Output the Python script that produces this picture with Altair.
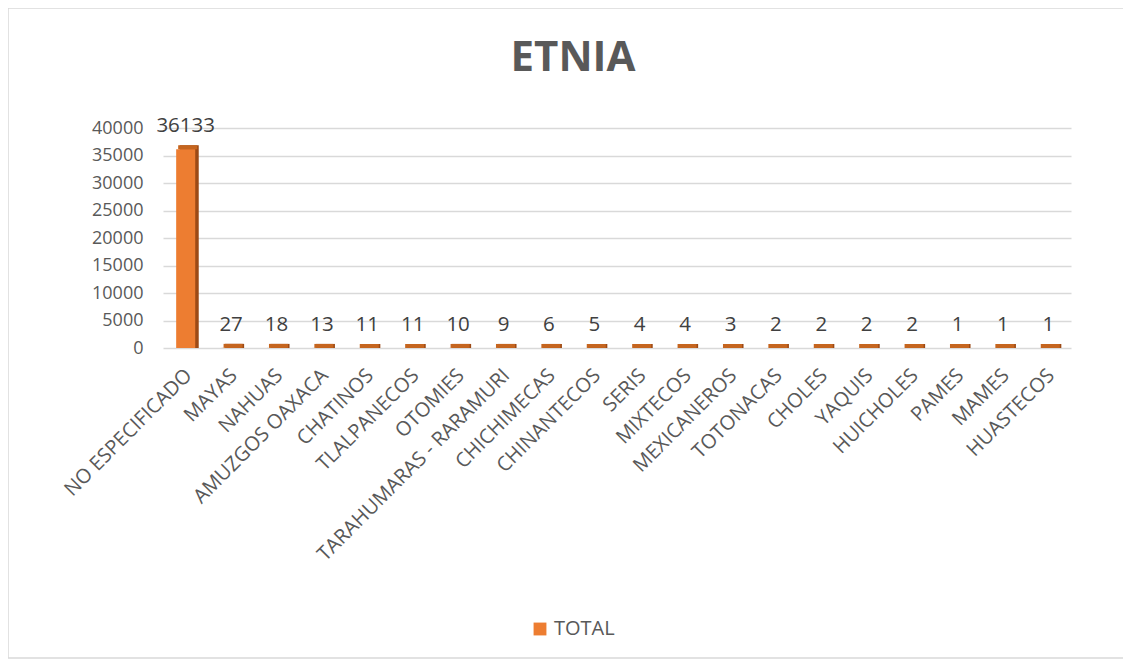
import altair as alt
import pandas as pd

categories = ["NO ESPECIFICADO", "MAYAS", "NAHUAS", "AMUZGOS OAXACA", "CHATINOS",
              "TLALPANECOS", "OTOMIES", "TARAHUMARAS - RARAMURI", "CHICHIMECAS",
              "CHINANTECOS", "SERIS", "MIXTECOS", "MEXICANEROS", "TOTONACAS",
              "CHOLES", "YAQUIS", "HUICHOLES", "PAMES", "MAMES", "HUASTECOS"]
values = [36133, 27, 18, 13, 11, 11, 10, 9, 6, 5, 4, 4, 3, 2, 2, 2, 2, 1, 1, 1]
series = ["TOTAL"] * len(categories)
y_ticks = list(range(0, 40001, 5000))

df = pd.DataFrame({"etnia": categories, "total": values, "serie": series})

FONT = "Open Sans"
GREY = "#595959"
W, H = 908, 220
PL, PT, PR, PB = 155, 120, 52, 312

xenc = alt.X("etnia:N", sort=categories,
             scale=alt.Scale(paddingInner=0.58, paddingOuter=0.29),
             axis=alt.Axis(title=None, labelAngle=-45, labelFontSize=20, labelColor=GREY,
                           labelFont=FONT, domain=False, ticks=False, labelPadding=24,
                           labelOffset=3, labelAlign="right", labelBaseline="middle",
                           labelOverlap=False, labelLimit=400))
yenc = alt.Y("total:Q", scale=alt.Scale(domain=[0, 40000], nice=False),
             axis=alt.Axis(title=None, values=y_ticks, format="d", labelFontSize=18,
                           labelColor=GREY, labelFont=FONT, domain=False, ticks=False,
                           labelPadding=20, gridColor="#D9D9D9", gridWidth=1.5))

base = alt.Chart(df)

border = base.mark_rect(fillOpacity=0, stroke="#D9D9D9", strokeWidth=1.5).encode(
    x=alt.value(-PL), x2=alt.value(W + PR + 10),
    y=alt.value(-PT), y2=alt.value(H + PB - 2)
).transform_filter(alt.datum.etnia == "MAYAS")

title = base.mark_text(text="ETNIA", fontSize=42, fontWeight="bold", color=GREY, font=FONT).encode(
    x=alt.value(410), y=alt.value(-70)
).transform_filter(alt.datum.etnia == "MAYAS")

side = base.mark_bar(color="#9C4A16", xOffset=3.5, yOffset=-4, y2Offset=0).encode(
    x=xenc, y=yenc, y2=alt.datum(0))

top = base.mark_bar(color="#C5651F", xOffset=2, yOffset=-4, y2Offset=0).encode(
    x=xenc, y=yenc, y2="total:Q")

front = base.mark_bar().encode(
    x=xenc, y=yenc,
    color=alt.Color("serie:N", scale=alt.Scale(range=["#ED7D31"]),
                    legend=alt.Legend(title=None, orient="none", legendX=367, legendY=491,
                                      symbolType="square", symbolSize=165,
                                      labelFontSize=20, labelColor=GREY, labelFont=FONT,
                                      symbolStrokeWidth=0)))

labels = base.mark_text(fontSize=20.5, color="#404040", font=FONT, dy=-23).encode(
    x=xenc, y=yenc, text=alt.Text("total:Q", format="d"))

chart = alt.layer(border, side, top, front, labels, title).properties(
    width=W, height=H,
    padding={"left": PL, "top": PT, "right": PR, "bottom": PB},
    autosize=alt.AutoSizeParams(type="none"),
).configure(background="white").configure_view(stroke=None)

chart.save("out.html", embed_options={"renderer": "svg", "actions": False})
